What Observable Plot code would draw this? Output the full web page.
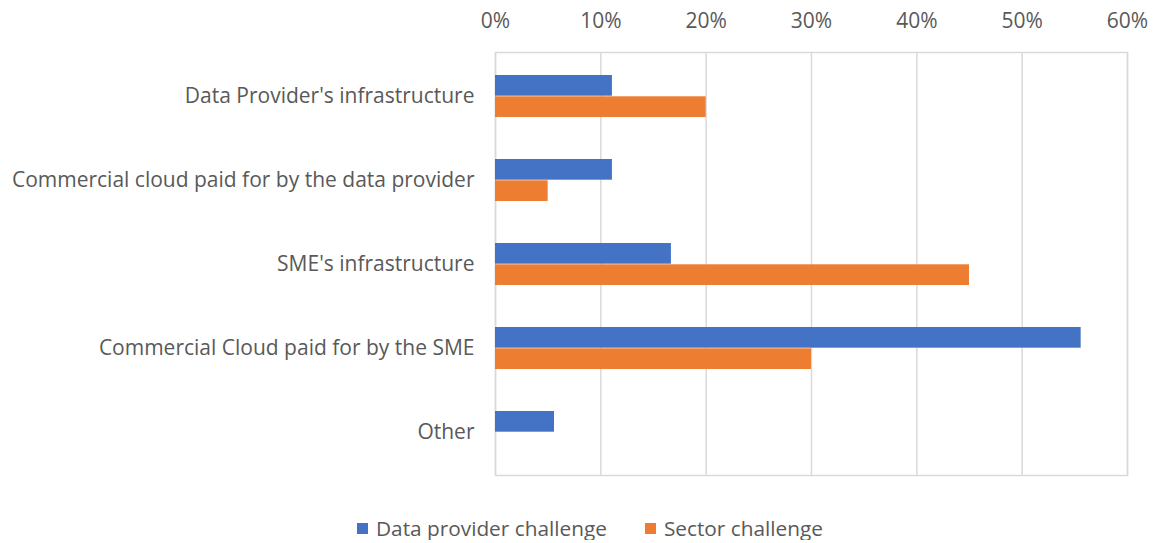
<!DOCTYPE html>
<html>
<head>
<meta charset="utf-8">
<script src="https://cdn.jsdelivr.net/npm/d3@7"></script>
<script src="https://cdn.jsdelivr.net/npm/@observablehq/plot@0.6"></script>
<style>
  body { margin: 0; background: #fff; font-family: "Open Sans", sans-serif; }
  #chart svg { display: block; }
  #legend { display: flex; align-items: center; padding-left: 357px; margin-top: 31px; font-size: 20.8px; line-height: 24px; color: #595959; font-family: "Open Sans", sans-serif; }
  .item { display: flex; align-items: center; margin-right: 38px; }
  .sw { width: 11px; height: 11px; margin-right: 8px; }
</style>
</head>
<body>
<div id="chart"></div>
<div id="legend"></div>
<script>
const categories = [
  "Data Provider's infrastructure",
  "Commercial cloud paid for by the data provider",
  "SME's infrastructure",
  "Commercial Cloud paid for by the SME",
  "Other"
];
const seriesNames = ["Data provider challenge", "Sector challenge"];
const dataProviderValues = [0.111, 0.111, 0.167, 0.556, 0.056];
const sectorValues = [0.20, 0.05, 0.45, 0.30, 0.0];
const xTicks = [0, 0.1, 0.2, 0.3, 0.4, 0.5, 0.6];
const colors = ["#4472C4", "#ED7D31"];

const blue = categories.map((c, i) => ({category: c, value: dataProviderValues[i]}));
const orange = categories.map((c, i) => ({category: c, value: sectorValues[i]}));

const chart = Plot.plot({
  width: 1157,
  height: 485,
  marginLeft: 495,
  marginRight: 30,
  marginTop: 52,
  marginBottom: 10,
  style: {fontFamily: "'Open Sans', sans-serif", fontSize: "21px", color: "#595959", background: "#fff"},
  x: {domain: [0, 0.6], axis: "top", ticks: xTicks, tickFormat: d => Math.round(d * 100) + "%", tickSize: 0, tickPadding: 25, label: null},
  y: {domain: categories, padding: 0, tickSize: 0, tickPadding: 21, label: null},
  marks: [
    Plot.ruleX(xTicks, {stroke: "#d9d9d9", strokeWidth: 1.5}),
    Plot.frame({stroke: "#d9d9d9", strokeWidth: 1.5}),
    Plot.barX(blue, {x: "value", y: "category", fill: colors[0], insetTop: 21, insetBottom: 42.3}),
    Plot.barX(orange, {x: "value", y: "category", fill: colors[1], insetTop: 42.3, insetBottom: 21})
  ]
});
document.getElementById("chart").append(chart);

const legend = document.getElementById("legend");
seriesNames.forEach((n, i) => {
  const item = document.createElement("div");
  item.className = "item";
  const sw = document.createElement("span");
  sw.className = "sw";
  sw.style.background = colors[i];
  const t = document.createElement("span");
  t.textContent = n;
  item.append(sw, t);
  legend.append(item);
});
</script>
</body>
</html>
